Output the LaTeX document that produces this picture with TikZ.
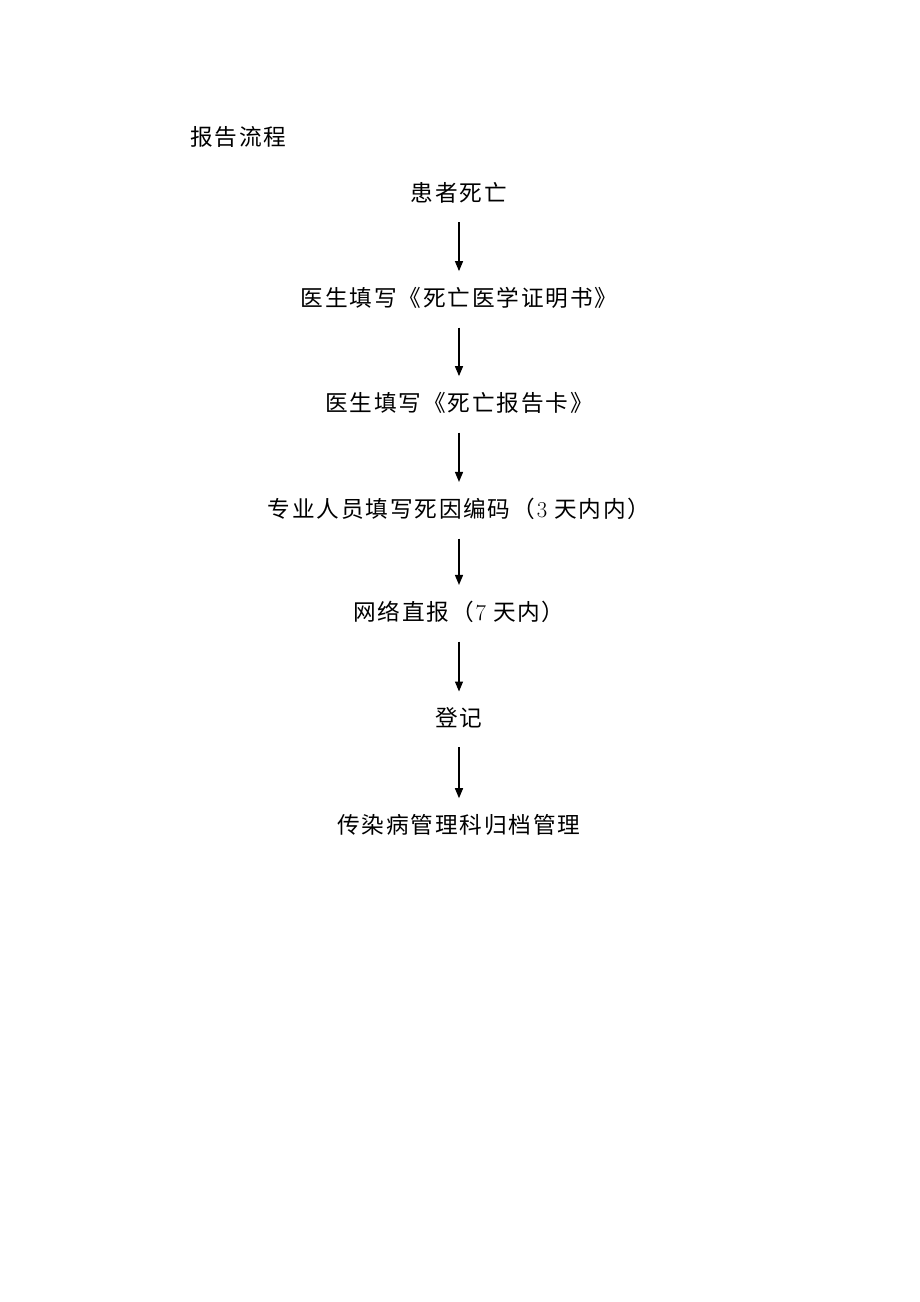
\documentclass[tikz,border=0pt]{standalone}
\usepackage{fontspec}
\newfontfamily\cjk[LetterSpace=8]{Noto Sans CJK SC}
\usetikzlibrary{arrows.meta}

\begin{document}
\begin{tikzpicture}[x=0.75pt, y=-0.75pt,
  every node/.style={font=\cjk\fontsize{17}{20}\selectfont, inner sep=0pt},
  flow/.style={-{Triangle[length=7.5pt, width=6pt]}, line width=1pt, shorten <=14pt, shorten >=12pt}]
\useasboundingbox (0,0) rectangle (920,1302);
\node[anchor=west] (title) at (190,137) {报告流程};
\foreach \n/\y/\txt in {dead/193/患者死亡, cert/298/医生填写《死亡医学证明书》, card/403/医生填写《死亡报告卡》, code/509/专业人员填写死因编码（\textrm{3} 天内内）, net/612/网络直报（\textrm{7} 天内）, reg/718/登记, arch/825/传染病管理科归档管理}{
\node (\n) at (459,\y) {\txt};
}
\foreach \s/\t in {dead/cert, cert/card, card/code, code/net, net/reg, reg/arch}{
\draw[flow] (\s) -- (\t);
}
\end{tikzpicture}
\end{document}
